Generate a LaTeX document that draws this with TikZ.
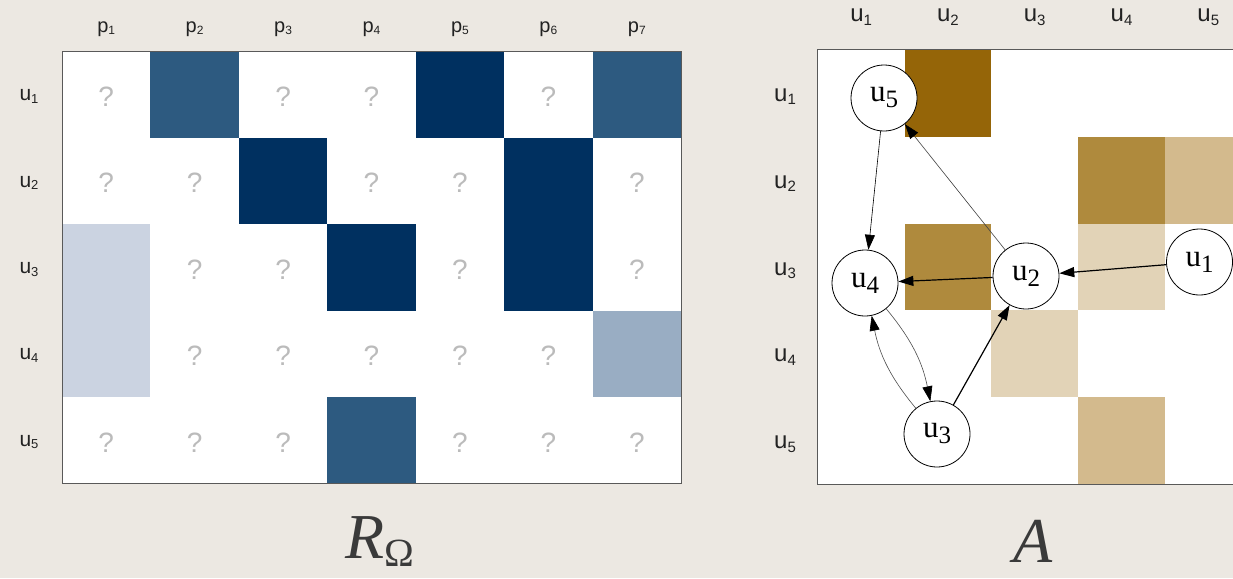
\documentclass[tikz,border=0pt]{standalone}
\usepackage{fontspec}
\setmainfont{Liberation Serif}
\newfontfamily\arialf{Liberation Sans}
\usetikzlibrary{arrows.meta}
\definecolor{bg}{HTML}{ECE8E2}
\definecolor{navy}{HTML}{003060}
\definecolor{midblue}{HTML}{2D5A80}
\definecolor{lightblue}{HTML}{CBD3E1}
\definecolor{softblue}{HTML}{99ADC3}
\definecolor{brownA}{HTML}{956508}
\definecolor{brownB}{HTML}{AF8A3D}
\definecolor{tanC}{HTML}{D3BA8D}
\definecolor{paleD}{HTML}{E2D3B7}
\definecolor{qgray}{HTML}{BBBBBB}
\definecolor{ink}{HTML}{222222}
\definecolor{bigink}{HTML}{3A3A3A}
\newcommand\fsz[1]{\fontsize{#1}{#1}\selectfont}
\newcommand\lowsub[3]{\raisebox{-#3pt}{\fsz{#1}#2}}
\newcommand\lcell[3]{\fill[#3] ({62+88.43*(#1-1)},{51.5+86.4*(#2-1)}) rectangle ++(88.43,86.4);}
\newcommand\rcell[3]{\fill[#3] ({817.7+86.8*(#1-1)},{50+86.8*(#2-1)}) rectangle ++(86.8,86.8);}
\tikzset{
  qmark/.style={text=qgray, font=\arialf\fsz{28}, inner sep=0pt},
  plab/.style={text=ink, font=\arialf\fsz{20}, anchor=base, inner sep=0pt},
  ulab/.style={text=ink, font=\arialf\fsz{21}, anchor=base, inner sep=0pt},
  rlab/.style={text=ink, font=\arialf\fsz{24}, anchor=base, inner sep=0pt},
  gnode/.style={circle, draw=black, line width=0.8pt, fill=white, minimum size=66pt, inner sep=0pt, font=\fsz{31}},
  thinedge/.style={line width=0.6pt, -{Triangle[length=15pt,width=10pt,color=black,fill=black]}},
  thickedge/.style={line width=1.2pt, -{Triangle[length=15pt,width=10pt]}},
  mframe/.style={draw=black!65, line width=1pt}
}
\begin{document}
\begin{tikzpicture}[x=1pt,y=-1pt]
\useasboundingbox (0,0) rectangle (1233,578);
\clip (0,0) rectangle (1233,578);
\fill[bg] (0,0) rectangle (1233,578);

% ---------- left matrix ----------
\fill[white] (62,51.5) rectangle (681,483.5);
\lcell{2}{1}{midblue}
\lcell{5}{1}{navy}
\lcell{7}{1}{midblue}
\lcell{3}{2}{navy}
\lcell{6}{2}{navy}
\lcell{1}{3}{lightblue}
\lcell{4}{3}{navy}
\lcell{6}{3}{navy}
\lcell{1}{4}{lightblue}
\lcell{7}{4}{softblue}
\lcell{4}{5}{midblue}
\draw[mframe] (62,51.5) rectangle (681,483.5);
\foreach \c/\r in {1/1,3/1,4/1,6/1,1/2,2/2,4/2,5/2,7/2,2/3,3/3,5/3,7/3,2/4,3/4,4/4,5/4,6/4,1/5,2/5,3/5,5/5,6/5,7/5}
  \node[qmark] (q\c\r) at ({62+88.43*(\c-0.5)},{51.5+86.4*(\r-0.5)+2}) {?};
\foreach \c in {1,...,7}
  \node[plab] (p\c) at ({62+88.43*(\c-0.5)},33) {p\lowsub{12}{\c}{2}};
\foreach \r in {1,...,5}
  \node[ulab] (lu\r) at (29,{51.5+86.4*(\r-0.5)+6}) {u\lowsub{13}{\r}{2.5}};

% ---------- right matrix ----------
\fill[white] (817.7,50) rectangle (1260,484);
\rcell{2}{1}{brownA}
\rcell{4}{2}{brownB}
\rcell{5}{2}{tanC}
\rcell{2}{3}{brownB}
\rcell{4}{3}{paleD}
\rcell{3}{4}{paleD}
\rcell{4}{5}{tanC}
\draw[mframe] (817.7,50) rectangle (1260,484);
\foreach \c in {1,...,5}
  \node[rlab] (cu\c) at ({817.7+86.8*(\c-0.5)},22) {u\lowsub{15}{\c}{3.5}};
\foreach \r in {1,...,5}
  \node[rlab] (ru\r) at (785,{50+86.8*(\r-0.5)+8}) {u\lowsub{15}{\r}{3.5}};

% ---------- graph ----------
\node[gnode] (u5) at (884,98) {u\lowsub{25}{5}{6}};
\node[gnode] (u4) at (865,283) {u\lowsub{25}{4}{6}};
\node[gnode] (u2) at (1026,276) {u\lowsub{25}{2}{6}};
\node[gnode] (u1) at (1199.5,262) {u\lowsub{25}{1}{6}};
\node[gnode] (u3) at (937,434) {u\lowsub{25}{3}{6}};

\draw[thinedge] (u5) -- (u4);
\draw[thinedge, draw=black!75] (u2) -- (u5);
\draw[thickedge] (u2) -- (u4);
\draw[thickedge] (u1) -- (u2);
\draw[thickedge] (u3) -- (u2);
\draw[thinedge, draw=black!70] (u3) to[bend left=14] (u4);
\draw[thinedge, draw=black!70] (u4) to[bend left=14] (u3);

% ---------- captions ----------
\node[anchor=base west, inner sep=0pt, text=bigink, font=\fsz{64}] (capR) at (345,558) {\textit{R}\lowsub{40}{Ω}{8}};
\node[anchor=base west, inner sep=0pt, text=bigink, font=\fsz{64}] (capA) at (1013,562) {\textit{A}};
\end{tikzpicture}
\end{document}
